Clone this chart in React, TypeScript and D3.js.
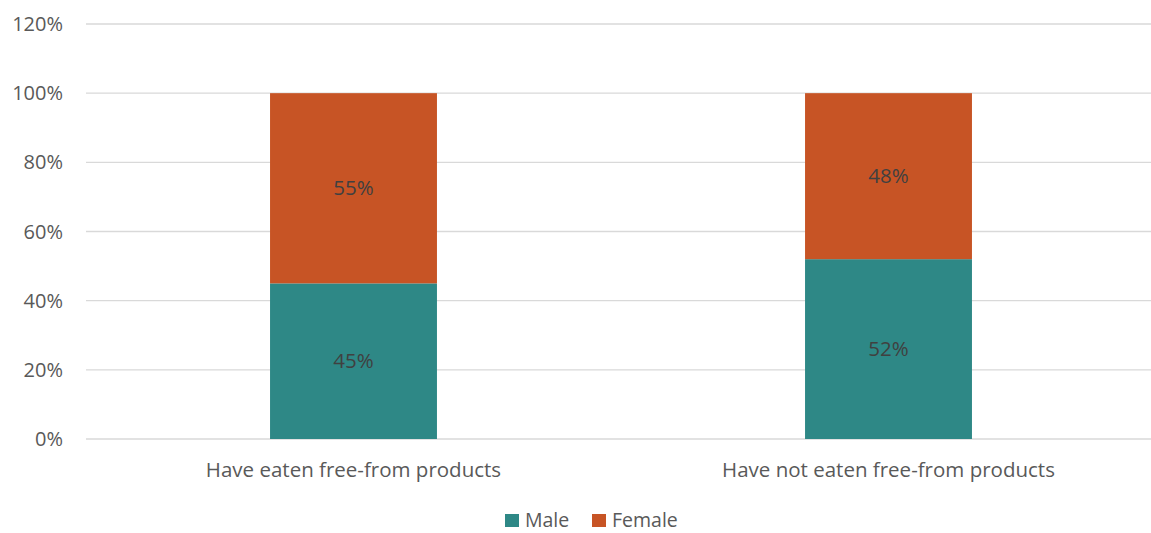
import React from "react";
import * as d3 from "d3";

const categories = ["Have eaten free-from products", "Have not eaten free-from products"];
const seriesNames = ["Male", "Female"];
const maleValues = [45, 52];
const femaleValues = [55, 48];
const yTicks = [0, 20, 40, 60, 80, 100, 120];

const colors: Record<string, string> = { Male: "#2E8886", Female: "#C75425" };

const W = 1151;
const H = 533;
const margin = { left: 86, right: -5, top: 24, bottom: 94 };
const FONT = "'Open Sans', 'Noto Sans', sans-serif";

export default function App() {
  const x = d3
    .scaleBand<string>()
    .domain(categories)
    .range([margin.left, W - margin.right])
    .padding(0);
  const y = d3
    .scaleLinear()
    .domain([0, 120])
    .range([H - margin.bottom, margin.top]);

  const rows = categories.map((c, i) => ({ category: c, Male: maleValues[i], Female: femaleValues[i] }));
  const stacked = d3.stack<any>().keys(seriesNames)(rows);
  const barW = x.bandwidth() * 0.312;

  return (
    <svg width={W} height={H} style={{ position: "absolute", left: 0, top: 0, background: "#fff" }}>
      {yTicks.map((t) => (
        <g key={t}>
          <line x1={margin.left} x2={W} y1={y(t)} y2={y(t)} stroke="#D9D9D9" strokeWidth={1.3} />
          <text
            x={63}
            y={y(t)}
            dy="0.35em"
            textAnchor="end"
            fontFamily={FONT}
            fontSize={20}
            fill="#595959"
          >
            {t}%
          </text>
        </g>
      ))}
      {stacked.map((s) => (
        <g key={s.key} fill={colors[s.key]}>
          {s.map((d, i) => {
            const cx = (x(categories[i]) as number) + x.bandwidth() / 2;
            return (
              <g key={i}>
                <rect x={cx - barW / 2} y={y(d[1])} width={barW} height={y(d[0]) - y(d[1])} />
                <text
                  x={cx}
                  y={(y(d[0]) + y(d[1])) / 2}
                  dy="0.35em"
                  textAnchor="middle"
                  fontFamily={FONT}
                  fontSize={20.5}
                  fill="#404040"
                >
                  {d[1] - d[0]}%
                </text>
              </g>
            );
          })}
        </g>
      ))}
      {categories.map((c) => (
        <text
          key={c}
          x={(x(c) as number) + x.bandwidth() / 2}
          y={470}
          dy="0.35em"
          textAnchor="middle"
          fontFamily={FONT}
          fontSize={20.5}
          fill="#595959"
        >
          {c}
        </text>
      ))}
      <g>
        <rect x={505} y={514} width={14} height={13} fill={colors.Male} />
        <text x={525} y={527} fontFamily={FONT} fontSize={19.5} fill="#595959">
          Male
        </text>
        <rect x={592} y={514} width={14} height={13} fill={colors.Female} />
        <text x={612} y={527} fontFamily={FONT} fontSize={19.5} fill="#595959">
          Female
        </text>
      </g>
    </svg>
  );
}
